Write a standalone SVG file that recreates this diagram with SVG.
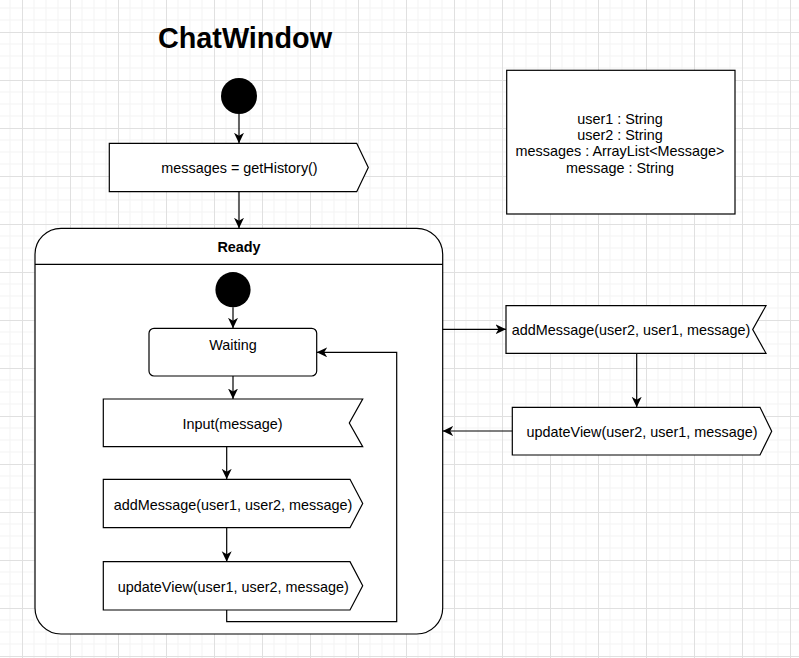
<svg xmlns="http://www.w3.org/2000/svg" width="799" height="658" viewBox="0 0 799 658">
  <defs>
    <pattern id="grid" patternUnits="userSpaceOnUse" x="22" y="32" width="48" height="48">
      <path d="M12,0V48M24,0V48M36,0V48M0,12H48M0,24H48M0,36H48" stroke="#f3f3f3" stroke-width="1" fill="none"/>
      <path d="M0.5,0V48M0,0.5H48" stroke="#e0e0e0" stroke-width="1" fill="none"/>
    </pattern>
    <marker id="arrow" markerUnits="userSpaceOnUse" markerWidth="12" markerHeight="12" refX="10.5" refY="5" orient="auto">
      <path d="M0,0 L10.5,5 L0,10 L3,5 Z" fill="#000"/>
    </marker>
    <style>
      .shape { fill: #fff; stroke: #000; stroke-width: 1.2; }
      .edge { fill: none; stroke: #000; stroke-width: 1.2; marker-end: url(#arrow); }
      .plain { fill: none; stroke: #000; stroke-width: 1.2; }
      .lbl { font-family: "Liberation Sans", Arial, sans-serif; font-size: 14.4px; fill: #000; text-anchor: middle; }
      .bold { font-weight: bold; }
      .title { font-family: "Liberation Sans", Arial, sans-serif; font-size: 28.8px; font-weight: bold; fill: #000; text-anchor: middle; }
    </style>
  </defs>
  <rect x="0" y="0" width="799" height="658" fill="#fff"/>
  <rect x="0" y="0" width="799" height="658" fill="url(#grid)"/>

  <g id="title">
    <text class="title" x="245" y="47.5">ChatWindow</text>
  </g>

  <g id="vars">
    <rect class="shape" x="506.7" y="70.3" width="228.3" height="143.7"/>
    <text class="lbl" x="620" y="123.5">user1 : String</text>
    <text class="lbl" x="620" y="139.9">user2 : String</text>
    <text class="lbl" x="620" y="156.3">messages : ArrayList&lt;Message&gt;</text>
    <text class="lbl" x="620" y="172.9">message : String</text>
  </g>

  <g id="start">
    <circle cx="239" cy="96" r="18" fill="#000"/>
  </g>

  <g id="getHistory">
    <path class="shape" d="M109.3,143.3 H356.7 L368.3,167.5 L356.7,191.7 H109.3 Z"/>
    <text class="lbl" x="239.5" y="173.2">messages = getHistory()</text>
  </g>

  <g id="ready">
    <rect class="shape" x="35" y="228.3" width="407.7" height="405.7" rx="26" ry="26"/>
    <line class="plain" x1="35" y1="264.3" x2="442.7" y2="264.3"/>
    <text class="lbl bold" x="239" y="251.8">Ready</text>
  </g>

  <g id="innerStart">
    <circle cx="233" cy="289.7" r="17.6" fill="#000"/>
  </g>

  <g id="waiting">
    <rect class="shape" x="149" y="328.3" width="167.7" height="47.7" rx="5" ry="5"/>
    <text class="lbl" x="233" y="349.8">Waiting</text>
  </g>

  <g id="input">
    <path class="shape" d="M103.3,399 H362.7 L349.3,423 L362.7,446.7 H103.3 Z"/>
    <text class="lbl" x="232.5" y="428.8">Input(message)</text>
  </g>

  <g id="addMessage1">
    <path class="shape" d="M103.3,479.3 H350 L362.7,503.5 L350,527.7 H103.3 Z"/>
    <text class="lbl" x="233" y="509.7">addMessage(user1, user2, message)</text>
  </g>

  <g id="updateView1">
    <path class="shape" d="M103.3,561.7 H350 L362.7,585.8 L350,610 H103.3 Z"/>
    <text class="lbl" x="233.3" y="591.8">updateView(user1, user2, message)</text>
  </g>

  <g id="addMessage2">
    <path class="shape" d="M506,305.7 H766 L752.7,329.5 L766,353.3 H506 Z"/>
    <text class="lbl" x="631" y="335.3">addMessage(user2, user1, message)</text>
  </g>

  <g id="updateView2">
    <path class="shape" d="M512.3,407.3 H760 L771.7,431.2 L760,455 H512.3 Z"/>
    <text class="lbl" x="642" y="437.3">updateView(user2, user1, message)</text>
  </g>

  <g id="connectors">
    <line class="edge" x1="239" y1="114" x2="239" y2="143.3"/>
    <line class="edge" x1="239" y1="191.7" x2="239" y2="228.3"/>
    <line class="edge" x1="233" y1="307.3" x2="233" y2="328.3"/>
    <line class="edge" x1="233" y1="376" x2="233" y2="399"/>
    <line class="edge" x1="226.7" y1="446.7" x2="226.7" y2="479.3"/>
    <line class="edge" x1="226.7" y1="527.7" x2="226.7" y2="561.7"/>
    <path class="edge" d="M226.7,610 V621.7 H396.7 V352.3 H316.7"/>
    <line class="edge" x1="442.7" y1="329.3" x2="506" y2="329.3"/>
    <line class="edge" x1="636.7" y1="353.3" x2="636.7" y2="407.3"/>
    <line class="edge" x1="512.3" y1="431" x2="442.7" y2="431"/>
  </g>
</svg>
